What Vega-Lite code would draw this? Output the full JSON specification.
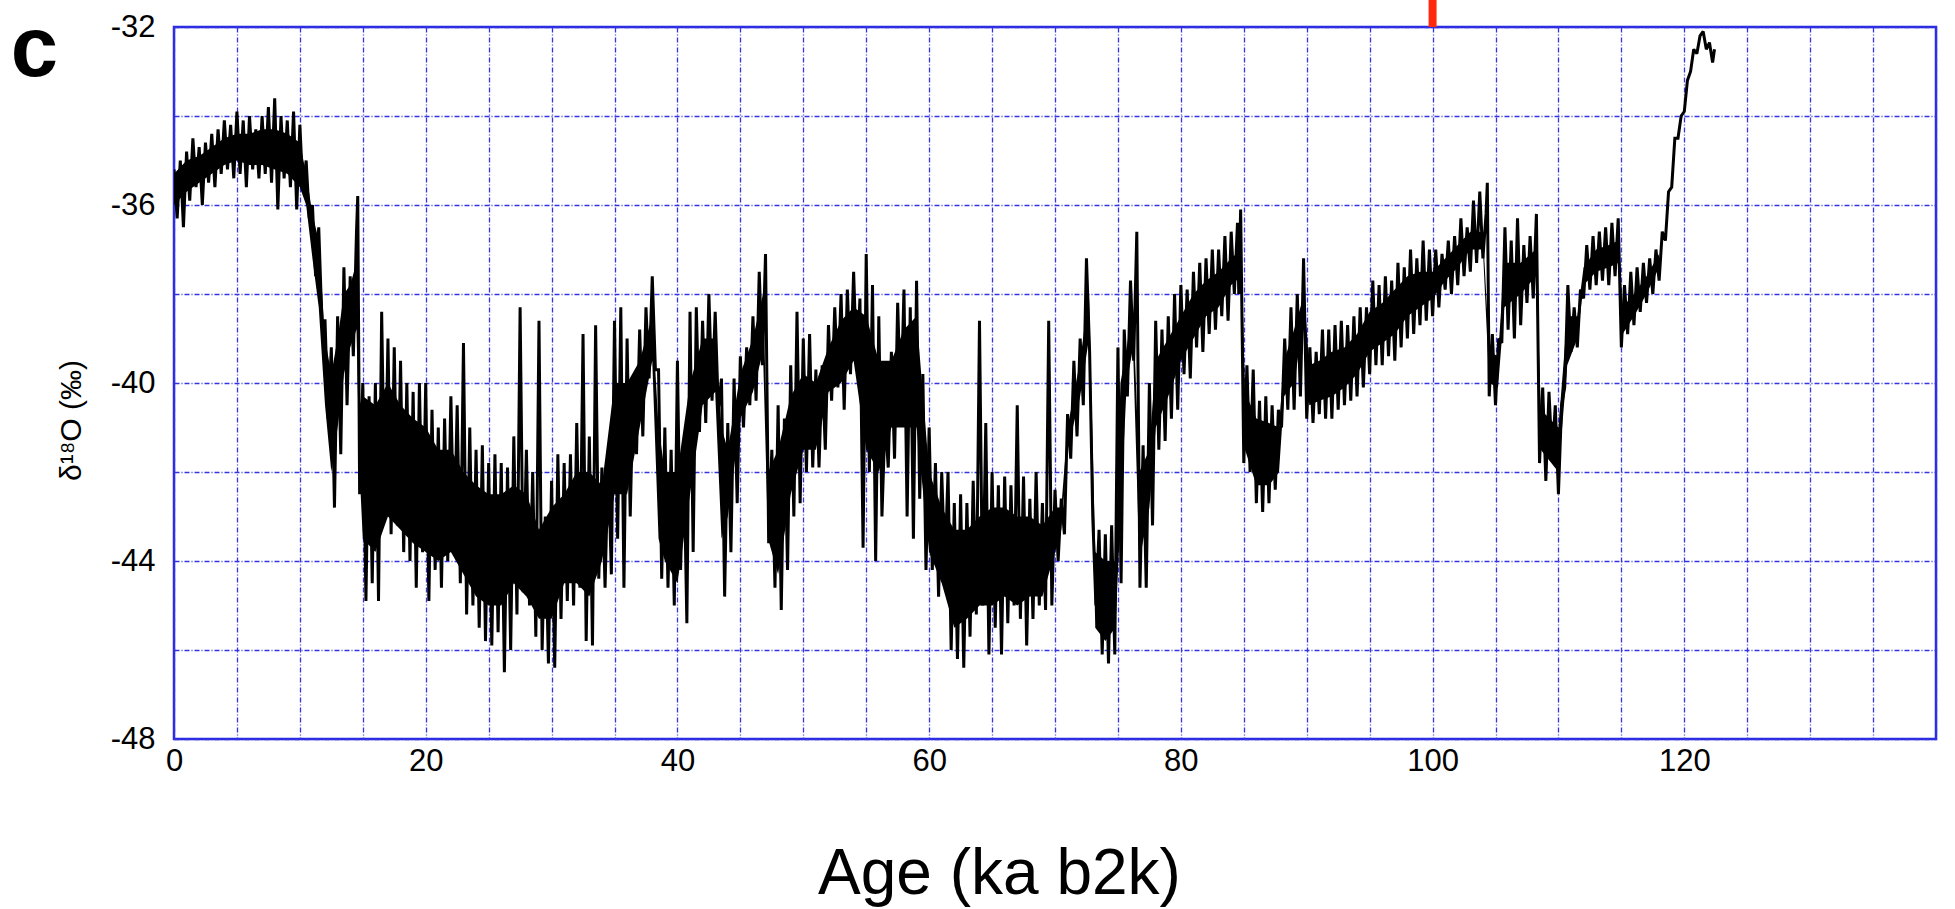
{
  "$schema": "https://vega.github.io/schema/vega-lite/v6.json",
  "width": 1762,
  "height": 712,
  "autosize": {"type": "none"},
  "padding": {"left": 174, "top": 27, "right": 19, "bottom": 170},
  "background": "white",
  "config": {
    "view": {"stroke": "#2b2be3", "strokeWidth": 2.5},
    "axis": {
      "grid": true,
      "ticks": false,
      "domain": false,
      "gridColor": "#3434e0",
      "gridDash": [5, 2, 1, 2],
      "gridWidth": 1.3,
      "labelFont": "Liberation Sans",
      "labelFontSize": 31,
      "labelColor": "black",
      "labelFlush": false,
      "labelOverlap": false,
      "titleColor": "black",
      "titleFontWeight": "normal"
    }
  },
  "datasets": {
    "ngrip": [
      {"age":0,"d18O":-35.2},{"age":0.25,"d18O":-36.3},{"age":0.5,"d18O":-35.0},{"age":0.75,"d18O":-36.5},
      {"age":1,"d18O":-34.8},{"age":1.25,"d18O":-35.9},{"age":1.5,"d18O":-34.5},{"age":1.75,"d18O":-35.6},
      {"age":2,"d18O":-34.7},{"age":2.25,"d18O":-36.0},{"age":2.5,"d18O":-34.6},{"age":2.75,"d18O":-35.5},
      {"age":3,"d18O":-34.4},{"age":3.25,"d18O":-35.6},{"age":3.5,"d18O":-34.3},{"age":3.75,"d18O":-35.3},
      {"age":4,"d18O":-34.1},{"age":4.25,"d18O":-35.2},{"age":4.5,"d18O":-34.2},{"age":4.75,"d18O":-35.4},
      {"age":5,"d18O":-33.9},{"age":5.25,"d18O":-35.3},{"age":5.5,"d18O":-34.1},{"age":5.75,"d18O":-35.6},
      {"age":6,"d18O":-34.0},{"age":6.25,"d18O":-35.2},{"age":6.5,"d18O":-34.3},{"age":6.75,"d18O":-35.4},
      {"age":7,"d18O":-34.0},{"age":7.25,"d18O":-35.3},{"age":7.5,"d18O":-33.8},{"age":7.75,"d18O":-35.5},
      {"age":8,"d18O":-33.6},{"age":8.25,"d18O":-36.1},{"age":8.5,"d18O":-34.0},{"age":8.75,"d18O":-35.4},
      {"age":9,"d18O":-34.1},{"age":9.25,"d18O":-35.6},{"age":9.5,"d18O":-33.9},{"age":9.75,"d18O":-36.1},
      {"age":10,"d18O":-34.2},{"age":10.25,"d18O":-35.7},{"age":10.5,"d18O":-35.0},{"age":10.75,"d18O":-36.3},
      {"age":11,"d18O":-36.0},{"age":11.25,"d18O":-37.6},{"age":11.5,"d18O":-36.5},{"age":11.75,"d18O":-38.6},
      {"age":12,"d18O":-38.6},{"age":12.25,"d18O":-40.8},{"age":12.5,"d18O":-39.2},{"age":12.75,"d18O":-42.8},
      {"age":13,"d18O":-38.5},{"age":13.25,"d18O":-41.6},{"age":13.5,"d18O":-37.4},{"age":13.75,"d18O":-40.5},
      {"age":14,"d18O":-37.6},{"age":14.25,"d18O":-39.4},{"age":14.5,"d18O":-36.6},{"age":14.6,"d18O":-35.8},
      {"age":14.75,"d18O":-42.5},{"age":15,"d18O":-40.0},{"age":15.25,"d18O":-44.9},{"age":15.5,"d18O":-40.3},
      {"age":15.75,"d18O":-44.5},{"age":16,"d18O":-40.0},{"age":16.25,"d18O":-44.9},{"age":16.5,"d18O":-38.4},
      {"age":16.75,"d18O":-43.0},{"age":17,"d18O":-39.0},{"age":17.25,"d18O":-43.4},{"age":17.5,"d18O":-39.2},
      {"age":17.75,"d18O":-43.2},{"age":18,"d18O":-39.5},{"age":18.25,"d18O":-43.8},{"age":18.5,"d18O":-40.0},
      {"age":18.75,"d18O":-44.0},{"age":19,"d18O":-40.2},{"age":19.25,"d18O":-44.6},{"age":19.5,"d18O":-40.0},
      {"age":19.75,"d18O":-43.8},{"age":20,"d18O":-40.0},{"age":20.25,"d18O":-44.9},{"age":20.5,"d18O":-40.6},
      {"age":20.75,"d18O":-44.2},{"age":21,"d18O":-41.0},{"age":21.25,"d18O":-44.6},{"age":21.5,"d18O":-40.8},
      {"age":21.75,"d18O":-44.0},{"age":22,"d18O":-40.3},{"age":22.25,"d18O":-43.7},{"age":22.5,"d18O":-40.5},
      {"age":22.75,"d18O":-44.5},{"age":23,"d18O":-39.1},{"age":23.25,"d18O":-45.2},{"age":23.5,"d18O":-41.0},
      {"age":23.75,"d18O":-45.0},{"age":24,"d18O":-41.5},{"age":24.25,"d18O":-45.5},{"age":24.5,"d18O":-41.4},
      {"age":24.75,"d18O":-45.8},{"age":25,"d18O":-41.8},{"age":25.25,"d18O":-45.9},{"age":25.5,"d18O":-41.6},
      {"age":25.75,"d18O":-45.6},{"age":26,"d18O":-41.8},{"age":26.25,"d18O":-46.5},{"age":26.5,"d18O":-41.9},
      {"age":26.75,"d18O":-46.0},{"age":27,"d18O":-41.2},{"age":27.25,"d18O":-45.2},{"age":27.5,"d18O":-38.3},
      {"age":27.75,"d18O":-44.7},{"age":28,"d18O":-41.5},{"age":28.25,"d18O":-45.0},{"age":28.5,"d18O":-42.0},
      {"age":28.75,"d18O":-45.7},{"age":29,"d18O":-38.6},{"age":29.25,"d18O":-46.0},{"age":29.5,"d18O":-43.0},
      {"age":29.75,"d18O":-46.3},{"age":30,"d18O":-42.2},{"age":30.25,"d18O":-46.4},{"age":30.5,"d18O":-41.6},
      {"age":30.75,"d18O":-45.3},{"age":31,"d18O":-41.8},{"age":31.25,"d18O":-44.9},{"age":31.5,"d18O":-41.6},
      {"age":31.75,"d18O":-45.0},{"age":32,"d18O":-40.9},{"age":32.25,"d18O":-44.6},{"age":32.5,"d18O":-38.9},
      {"age":32.75,"d18O":-45.8},{"age":33,"d18O":-41.2},{"age":33.25,"d18O":-45.9},{"age":33.5,"d18O":-38.7},
      {"age":33.75,"d18O":-44.4},{"age":34,"d18O":-41.9},{"age":34.25,"d18O":-44.6},{"age":34.5,"d18O":-41.7},
      {"age":34.75,"d18O":-44.3},{"age":35,"d18O":-38.6},{"age":35.25,"d18O":-43.5},{"age":35.5,"d18O":-38.3},
      {"age":35.75,"d18O":-44.6},{"age":36,"d18O":-39.0},{"age":36.25,"d18O":-43.0},{"age":36.5,"d18O":-39.9},
      {"age":36.75,"d18O":-41.6},{"age":37,"d18O":-38.8},{"age":37.25,"d18O":-41.2},{"age":37.5,"d18O":-38.3},
      {"age":37.75,"d18O":-39.9},{"age":38,"d18O":-37.6},{"age":38.25,"d18O":-39.7},{"age":38.5,"d18O":-39.7},
      {"age":38.75,"d18O":-44.4},{"age":39,"d18O":-41.0},{"age":39.25,"d18O":-44.6},{"age":39.5,"d18O":-41.5},
      {"age":39.75,"d18O":-45.0},{"age":40,"d18O":-39.5},{"age":40.25,"d18O":-44.2},{"age":40.5,"d18O":-41.5},
      {"age":40.75,"d18O":-45.4},{"age":41,"d18O":-38.4},{"age":41.25,"d18O":-43.8},{"age":41.5,"d18O":-38.3},
      {"age":41.75,"d18O":-41.1},{"age":42,"d18O":-38.6},{"age":42.25,"d18O":-40.9},{"age":42.5,"d18O":-38.0},
      {"age":42.75,"d18O":-40.4},{"age":43,"d18O":-38.4},{"age":43.25,"d18O":-40.6},{"age":43.5,"d18O":-39.9},
      {"age":43.75,"d18O":-44.8},{"age":44,"d18O":-40.9},{"age":44.25,"d18O":-43.8},{"age":44.5,"d18O":-39.9},
      {"age":44.75,"d18O":-42.7},{"age":45,"d18O":-39.4},{"age":45.25,"d18O":-41.0},{"age":45.5,"d18O":-39.2},
      {"age":45.75,"d18O":-40.5},{"age":46,"d18O":-38.5},{"age":46.25,"d18O":-40.4},{"age":46.5,"d18O":-37.5},
      {"age":46.75,"d18O":-39.6},{"age":47,"d18O":-37.1},{"age":47.25,"d18O":-43.6},{"age":47.5,"d18O":-41.5},
      {"age":47.75,"d18O":-44.6},{"age":48,"d18O":-40.5},{"age":48.25,"d18O":-45.1},{"age":48.5,"d18O":-40.8},
      {"age":48.75,"d18O":-44.2},{"age":49,"d18O":-39.6},{"age":49.25,"d18O":-43.0},{"age":49.5,"d18O":-38.4},
      {"age":49.75,"d18O":-42.7},{"age":50,"d18O":-39.0},{"age":50.25,"d18O":-42.0},{"age":50.5,"d18O":-38.9},
      {"age":50.75,"d18O":-41.9},{"age":51,"d18O":-39.7},{"age":51.25,"d18O":-41.9},{"age":51.5,"d18O":-39.6},
      {"age":51.75,"d18O":-41.5},{"age":52,"d18O":-38.7},{"age":52.25,"d18O":-40.4},{"age":52.5,"d18O":-38.3},
      {"age":52.75,"d18O":-40.1},{"age":53,"d18O":-38.0},{"age":53.25,"d18O":-40.6},{"age":53.5,"d18O":-37.9},
      {"age":53.75,"d18O":-39.8},{"age":54,"d18O":-37.5},{"age":54.25,"d18O":-39.7},{"age":54.5,"d18O":-38.1},
      {"age":54.75,"d18O":-43.7},{"age":55,"d18O":-37.1},{"age":55.25,"d18O":-42.0},{"age":55.5,"d18O":-37.8},
      {"age":55.75,"d18O":-44.0},{"age":56,"d18O":-38.5},{"age":56.25,"d18O":-43.0},{"age":56.5,"d18O":-40.8},
      {"age":56.75,"d18O":-41.9},{"age":57,"d18O":-39.3},{"age":57.25,"d18O":-41.7},{"age":57.5,"d18O":-38.2},
      {"age":57.75,"d18O":-40.6},{"age":58,"d18O":-37.9},{"age":58.25,"d18O":-43.0},{"age":58.5,"d18O":-38.3},
      {"age":58.75,"d18O":-43.5},{"age":59,"d18O":-37.7},{"age":59.25,"d18O":-42.6},{"age":59.5,"d18O":-39.8},
      {"age":59.75,"d18O":-44.2},{"age":60,"d18O":-41.0},{"age":60.25,"d18O":-44.2},{"age":60.5,"d18O":-41.8},
      {"age":60.75,"d18O":-44.8},{"age":61,"d18O":-42.0},{"age":61.25,"d18O":-44.2},{"age":61.5,"d18O":-42.0},
      {"age":61.75,"d18O":-46.0},{"age":62,"d18O":-42.7},{"age":62.25,"d18O":-46.2},{"age":62.5,"d18O":-42.5},
      {"age":62.75,"d18O":-46.4},{"age":63,"d18O":-42.7},{"age":63.25,"d18O":-45.7},{"age":63.5,"d18O":-42.2},
      {"age":63.75,"d18O":-45.2},{"age":64,"d18O":-38.6},{"age":64.25,"d18O":-45.0},{"age":64.5,"d18O":-40.9},
      {"age":64.75,"d18O":-46.1},{"age":65,"d18O":-42.0},{"age":65.25,"d18O":-45.5},{"age":65.5,"d18O":-42.3},
      {"age":65.75,"d18O":-46.1},{"age":66,"d18O":-42.1},{"age":66.25,"d18O":-45.4},{"age":66.5,"d18O":-42.3},
      {"age":66.75,"d18O":-45.0},{"age":67,"d18O":-40.5},{"age":67.25,"d18O":-45.3},{"age":67.5,"d18O":-42.1},
      {"age":67.75,"d18O":-45.9},{"age":68,"d18O":-42.6},{"age":68.25,"d18O":-45.3},{"age":68.5,"d18O":-42.0},
      {"age":68.75,"d18O":-45.0},{"age":69,"d18O":-42.7},{"age":69.25,"d18O":-45.1},{"age":69.5,"d18O":-38.6},
      {"age":69.75,"d18O":-45.0},{"age":70,"d18O":-42.4},{"age":70.25,"d18O":-44.0},{"age":70.5,"d18O":-42.6},
      {"age":70.75,"d18O":-43.4},{"age":71,"d18O":-40.7},{"age":71.25,"d18O":-41.7},{"age":71.5,"d18O":-39.5},
      {"age":71.75,"d18O":-41.2},{"age":72,"d18O":-39.0},{"age":72.25,"d18O":-40.5},{"age":72.5,"d18O":-37.2},
      {"age":72.75,"d18O":-39.3},{"age":73,"d18O":-43.0},{"age":73.25,"d18O":-45.0},{"age":73.5,"d18O":-43.3},
      {"age":73.75,"d18O":-46.1},{"age":74,"d18O":-43.4},{"age":74.25,"d18O":-46.3},{"age":74.5,"d18O":-43.2},
      {"age":74.75,"d18O":-46.1},{"age":75,"d18O":-39.2},{"age":75.25,"d18O":-44.5},{"age":75.5,"d18O":-38.8},
      {"age":75.75,"d18O":-40.3},{"age":76,"d18O":-37.7},{"age":76.25,"d18O":-39.5},{"age":76.5,"d18O":-36.6},
      {"age":76.75,"d18O":-44.6},{"age":77,"d18O":-41.4},{"age":77.25,"d18O":-44.6},{"age":77.5,"d18O":-40.0},
      {"age":77.75,"d18O":-43.2},{"age":78,"d18O":-38.6},{"age":78.25,"d18O":-41.5},{"age":78.5,"d18O":-38.8},
      {"age":78.75,"d18O":-41.3},{"age":79,"d18O":-38.5},{"age":79.25,"d18O":-40.8},{"age":79.5,"d18O":-38.0},
      {"age":79.75,"d18O":-40.6},{"age":80,"d18O":-37.8},{"age":80.25,"d18O":-39.8},{"age":80.5,"d18O":-37.9},
      {"age":80.75,"d18O":-39.9},{"age":81,"d18O":-37.5},{"age":81.25,"d18O":-39.2},{"age":81.5,"d18O":-37.3},
      {"age":81.75,"d18O":-39.3},{"age":82,"d18O":-37.2},{"age":82.25,"d18O":-38.9},{"age":82.5,"d18O":-37.0},
      {"age":82.75,"d18O":-38.8},{"age":83,"d18O":-37.0},{"age":83.25,"d18O":-38.5},{"age":83.5,"d18O":-36.7},
      {"age":83.75,"d18O":-38.6},{"age":84,"d18O":-36.6},{"age":84.25,"d18O":-38.0},{"age":84.5,"d18O":-36.4},
      {"age":84.6,"d18O":-38.0},{"age":84.75,"d18O":-36.1},{"age":85,"d18O":-41.8},{"age":85.25,"d18O":-39.6},
      {"age":85.5,"d18O":-42.0},{"age":85.75,"d18O":-39.7},{"age":86,"d18O":-42.7},{"age":86.25,"d18O":-40.4},
      {"age":86.5,"d18O":-42.9},{"age":86.75,"d18O":-40.3},{"age":87,"d18O":-42.7},{"age":87.25,"d18O":-40.5},
      {"age":87.5,"d18O":-42.4},{"age":87.75,"d18O":-40.6},{"age":88,"d18O":-41.0},{"age":88.25,"d18O":-39.0},
      {"age":88.5,"d18O":-40.6},{"age":88.75,"d18O":-38.3},{"age":89,"d18O":-40.6},{"age":89.25,"d18O":-38.0},
      {"age":89.5,"d18O":-40.3},{"age":89.75,"d18O":-37.2},{"age":90,"d18O":-40.8},{"age":90.25,"d18O":-39.2},
      {"age":90.5,"d18O":-40.9},{"age":90.75,"d18O":-39.3},{"age":91,"d18O":-40.7},{"age":91.25,"d18O":-38.8},
      {"age":91.5,"d18O":-40.8},{"age":91.75,"d18O":-38.8},{"age":92,"d18O":-40.8},{"age":92.25,"d18O":-38.7},
      {"age":92.5,"d18O":-40.6},{"age":92.75,"d18O":-38.6},{"age":93,"d18O":-40.5},{"age":93.25,"d18O":-38.7},
      {"age":93.5,"d18O":-40.4},{"age":93.75,"d18O":-38.5},{"age":94,"d18O":-40.3},{"age":94.25,"d18O":-38.3},
      {"age":94.5,"d18O":-40.1},{"age":94.75,"d18O":-38.3},{"age":95,"d18O":-39.8},{"age":95.25,"d18O":-37.7},
      {"age":95.5,"d18O":-39.6},{"age":95.75,"d18O":-37.8},{"age":96,"d18O":-39.6},{"age":96.25,"d18O":-37.6},
      {"age":96.5,"d18O":-39.4},{"age":96.75,"d18O":-37.7},{"age":97,"d18O":-39.5},{"age":97.25,"d18O":-37.3},
      {"age":97.5,"d18O":-39.2},{"age":97.75,"d18O":-37.4},{"age":98,"d18O":-39.0},{"age":98.25,"d18O":-37.0},
      {"age":98.5,"d18O":-38.9},{"age":98.75,"d18O":-37.2},{"age":99,"d18O":-38.7},{"age":99.25,"d18O":-36.8},
      {"age":99.5,"d18O":-38.6},{"age":99.75,"d18O":-37.0},{"age":100,"d18O":-38.5},{"age":100.25,"d18O":-37.0},
      {"age":100.5,"d18O":-38.3},{"age":100.75,"d18O":-37.1},{"age":101,"d18O":-37.9},{"age":101.25,"d18O":-36.8},
      {"age":101.5,"d18O":-38.0},{"age":101.75,"d18O":-36.7},{"age":102,"d18O":-37.8},{"age":102.25,"d18O":-36.3},
      {"age":102.5,"d18O":-37.6},{"age":102.75,"d18O":-36.5},{"age":103,"d18O":-37.5},{"age":103.25,"d18O":-35.9},
      {"age":103.5,"d18O":-37.3},{"age":103.75,"d18O":-35.7},{"age":104,"d18O":-37.2},{"age":104.25,"d18O":-36.2},
      {"age":104.35,"d18O":-35.5},{"age":104.5,"d18O":-40.3},{"age":104.75,"d18O":-38.9},{"age":105,"d18O":-40.5},
      {"age":105.25,"d18O":-39.0},{"age":105.5,"d18O":-39.1},{"age":105.75,"d18O":-36.5},{"age":106,"d18O":-38.8},
      {"age":106.25,"d18O":-36.8},{"age":106.5,"d18O":-39.0},{"age":106.75,"d18O":-36.3},{"age":107,"d18O":-38.7},
      {"age":107.25,"d18O":-36.9},{"age":107.5,"d18O":-38.2},{"age":107.75,"d18O":-36.7},{"age":108,"d18O":-38.1},
      {"age":108.25,"d18O":-36.2},{"age":108.5,"d18O":-41.8},{"age":108.75,"d18O":-40.1},{"age":109,"d18O":-42.2},
      {"age":109.25,"d18O":-40.2},{"age":109.5,"d18O":-41.7},{"age":109.75,"d18O":-40.5},{"age":110,"d18O":-42.5},
      {"age":110.25,"d18O":-40.5},{"age":110.5,"d18O":-40.1},{"age":110.75,"d18O":-37.8},{"age":111,"d18O":-39.3},
      {"age":111.25,"d18O":-38.3},{"age":111.5,"d18O":-39.2},{"age":111.75,"d18O":-37.9},{"age":112,"d18O":-38.1},
      {"age":112.25,"d18O":-36.9},{"age":112.5,"d18O":-37.9},{"age":112.75,"d18O":-36.7},{"age":113,"d18O":-37.8},
      {"age":113.25,"d18O":-36.6},{"age":113.5,"d18O":-37.7},{"age":113.75,"d18O":-36.5},{"age":114,"d18O":-37.8},
      {"age":114.25,"d18O":-36.4},{"age":114.5,"d18O":-37.6},{"age":114.75,"d18O":-36.3},{"age":115,"d18O":-39.2},
      {"age":115.25,"d18O":-37.8},{"age":115.5,"d18O":-38.9},{"age":115.75,"d18O":-37.5},{"age":116,"d18O":-38.7},
      {"age":116.25,"d18O":-37.4},{"age":116.5,"d18O":-38.4},{"age":116.75,"d18O":-37.3},{"age":117,"d18O":-38.2},
      {"age":117.25,"d18O":-37.2},{"age":117.5,"d18O":-38.0},{"age":117.75,"d18O":-37.0},{"age":118,"d18O":-37.7},
      {"age":118.25,"d18O":-36.6},{"age":118.5,"d18O":-36.8},{"age":118.75,"d18O":-35.7},{"age":119,"d18O":-35.6},
      {"age":119.25,"d18O":-34.5},{"age":119.5,"d18O":-34.5},{"age":119.75,"d18O":-34.0},{"age":120,"d18O":-33.9},
      {"age":120.25,"d18O":-33.2},{"age":120.5,"d18O":-33.0},{"age":120.75,"d18O":-32.5},{"age":121,"d18O":-32.6},
      {"age":121.25,"d18O":-32.2},{"age":121.5,"d18O":-32.1},{"age":121.75,"d18O":-32.5},{"age":122,"d18O":-32.35},
      {"age":122.25,"d18O":-32.8},{"age":122.4,"d18O":-32.5}
    ],
    "core": [
      {"age":0,"core_hi":-35.3,"core_lo":-36.0},{"age":1,"core_hi":-35.0,"core_lo":-35.7},{"age":2,"core_hi":-34.9,"core_lo":-35.5},
      {"age":3,"core_hi":-34.7,"core_lo":-35.3},{"age":4,"core_hi":-34.5,"core_lo":-35.1},{"age":5,"core_hi":-34.4,"core_lo":-35.0},
      {"age":6,"core_hi":-34.4,"core_lo":-35.1},{"age":7,"core_hi":-34.3,"core_lo":-35.1},{"age":8,"core_hi":-34.3,"core_lo":-35.2},
      {"age":9,"core_hi":-34.4,"core_lo":-35.3},{"age":10,"core_hi":-34.6,"core_lo":-35.6},{"age":10.5,"core_hi":-35.3,"core_lo":-36.0},
      {"age":11,"core_hi":-36.2,"core_lo":-37.2},{"age":11.5,"core_hi":-36.8,"core_lo":-38.3},{"age":12,"core_hi":-39.0,"core_lo":-40.5},
      {"age":12.5,"core_hi":-39.8,"core_lo":-42.0},{"age":13,"core_hi":-39.0,"core_lo":-41.0},{"age":13.5,"core_hi":-38.0,"core_lo":-39.8},
      {"age":14,"core_hi":-37.8,"core_lo":-39.2},{"age":14.5,"core_hi":-37.3,"core_lo":-38.8},{"age":14.75,"core_hi":-40.5,"core_lo":-42.0},
      {"age":15,"core_hi":-40.3,"core_lo":-43.5},{"age":16,"core_hi":-40.5,"core_lo":-43.8},{"age":17,"core_hi":-40.0,"core_lo":-43.0},
      {"age":18,"core_hi":-40.5,"core_lo":-43.3},{"age":19,"core_hi":-40.8,"core_lo":-43.6},{"age":20,"core_hi":-41.0,"core_lo":-43.8},
      {"age":21,"core_hi":-41.5,"core_lo":-44.0},{"age":22,"core_hi":-41.5,"core_lo":-43.8},{"age":23,"core_hi":-42.0,"core_lo":-44.3},
      {"age":24,"core_hi":-42.3,"core_lo":-44.8},{"age":25,"core_hi":-42.5,"core_lo":-45.0},{"age":26,"core_hi":-42.5,"core_lo":-45.0},
      {"age":27,"core_hi":-42.3,"core_lo":-44.5},{"age":28,"core_hi":-42.5,"core_lo":-44.8},{"age":29,"core_hi":-43.3,"core_lo":-45.3},
      {"age":30,"core_hi":-42.8,"core_lo":-45.3},{"age":31,"core_hi":-42.5,"core_lo":-44.5},{"age":32,"core_hi":-42.0,"core_lo":-44.5},
      {"age":33,"core_hi":-42.0,"core_lo":-44.8},{"age":34,"core_hi":-42.3,"core_lo":-44.0},{"age":35,"core_hi":-40.0,"core_lo":-42.5},
      {"age":36,"core_hi":-40.0,"core_lo":-42.5},{"age":37,"core_hi":-39.5,"core_lo":-41.0},{"age":38,"core_hi":-38.5,"core_lo":-39.5},
      {"age":38.5,"core_hi":-41.0,"core_lo":-43.5},{"age":39,"core_hi":-42.0,"core_lo":-44.0},{"age":40,"core_hi":-42.0,"core_lo":-44.5},
      {"age":41,"core_hi":-40.0,"core_lo":-42.5},{"age":42,"core_hi":-39.0,"core_lo":-40.5},{"age":43,"core_hi":-39.0,"core_lo":-40.2},
      {"age":43.5,"core_hi":-41.0,"core_lo":-43.5},{"age":44,"core_hi":-41.5,"core_lo":-43.0},{"age":45,"core_hi":-39.8,"core_lo":-40.8},
      {"age":46,"core_hi":-39.0,"core_lo":-40.2},{"age":46.8,"core_hi":-38.0,"core_lo":-39.3},{"age":47.2,"core_hi":-42.0,"core_lo":-43.5},
      {"age":48,"core_hi":-41.5,"core_lo":-44.3},{"age":49,"core_hi":-40.3,"core_lo":-42.5},{"age":50,"core_hi":-39.8,"core_lo":-41.5},
      {"age":51,"core_hi":-40.0,"core_lo":-41.5},{"age":52,"core_hi":-39.2,"core_lo":-40.2},{"age":53,"core_hi":-38.6,"core_lo":-40.0},
      {"age":54,"core_hi":-38.3,"core_lo":-39.5},{"age":55,"core_hi":-38.5,"core_lo":-41.5},{"age":56,"core_hi":-39.5,"core_lo":-42.0},
      {"age":57,"core_hi":-39.5,"core_lo":-41.0},{"age":58,"core_hi":-38.8,"core_lo":-41.0},{"age":59,"core_hi":-38.5,"core_lo":-41.0},
      {"age":60,"core_hi":-42.0,"core_lo":-43.8},{"age":61,"core_hi":-42.8,"core_lo":-44.5},{"age":62,"core_hi":-43.3,"core_lo":-45.5},
      {"age":63,"core_hi":-43.3,"core_lo":-45.3},{"age":64,"core_hi":-43.0,"core_lo":-45.0},{"age":65,"core_hi":-42.8,"core_lo":-45.0},
      {"age":66,"core_hi":-42.8,"core_lo":-44.8},{"age":67,"core_hi":-43.0,"core_lo":-45.0},{"age":68,"core_hi":-43.0,"core_lo":-44.8},
      {"age":69,"core_hi":-43.2,"core_lo":-44.8},{"age":70,"core_hi":-42.8,"core_lo":-43.8},{"age":70.5,"core_hi":-42.8,"core_lo":-43.3},
      {"age":71,"core_hi":-41.0,"core_lo":-41.5},{"age":72,"core_hi":-39.5,"core_lo":-40.3},{"age":72.7,"core_hi":-38.0,"core_lo":-39.0},
      {"age":73.2,"core_hi":-43.8,"core_lo":-45.5},{"age":74,"core_hi":-44.0,"core_lo":-45.8},{"age":74.8,"core_hi":-44.0,"core_lo":-45.5},
      {"age":75.2,"core_hi":-40.0,"core_lo":-43.0},{"age":75.7,"core_hi":-39.2,"core_lo":-40.0},{"age":76.2,"core_hi":-38.3,"core_lo":-39.2},
      {"age":76.7,"core_hi":-42.0,"core_lo":-44.0},{"age":77.5,"core_hi":-41.5,"core_lo":-42.8},{"age":78,"core_hi":-39.5,"core_lo":-41.0},
      {"age":79,"core_hi":-39.0,"core_lo":-40.3},{"age":80,"core_hi":-38.5,"core_lo":-39.5},{"age":81,"core_hi":-38.0,"core_lo":-39.0},
      {"age":82,"core_hi":-37.7,"core_lo":-38.5},{"age":83,"core_hi":-37.5,"core_lo":-38.3},{"age":84,"core_hi":-37.2,"core_lo":-37.8},
      {"age":84.8,"core_hi":-37.0,"core_lo":-37.6},{"age":85.1,"core_hi":-40.2,"core_lo":-41.5},{"age":86,"core_hi":-40.8,"core_lo":-42.3},
      {"age":87,"core_hi":-40.9,"core_lo":-42.3},{"age":87.8,"core_hi":-41.0,"core_lo":-42.0},{"age":88.2,"core_hi":-39.5,"core_lo":-40.3},
      {"age":89,"core_hi":-38.8,"core_lo":-40.0},{"age":89.8,"core_hi":-38.0,"core_lo":-38.5},{"age":90.2,"core_hi":-39.6,"core_lo":-40.5},
      {"age":91,"core_hi":-39.5,"core_lo":-40.4},{"age":92,"core_hi":-39.3,"core_lo":-40.3},{"age":93,"core_hi":-39.2,"core_lo":-40.1},
      {"age":94,"core_hi":-38.9,"core_lo":-39.8},{"age":95,"core_hi":-38.4,"core_lo":-39.3},{"age":96,"core_hi":-38.2,"core_lo":-39.1},
      {"age":97,"core_hi":-37.9,"core_lo":-38.9},{"age":98,"core_hi":-37.6,"core_lo":-38.5},{"age":99,"core_hi":-37.5,"core_lo":-38.3},
      {"age":100,"core_hi":-37.5,"core_lo":-38.1},{"age":101,"core_hi":-37.2,"core_lo":-37.7},{"age":102,"core_hi":-36.9,"core_lo":-37.4},
      {"age":103,"core_hi":-36.6,"core_lo":-37.0},{"age":104,"core_hi":-36.6,"core_lo":-37.0},{"age":104.5,"core_hi":-39.3,"core_lo":-40.0},
      {"age":105.2,"core_hi":-39.4,"core_lo":-40.1},{"age":105.7,"core_hi":-37.3,"core_lo":-38.3},{"age":107,"core_hi":-37.3,"core_lo":-38.0},
      {"age":108.2,"core_hi":-37.0,"core_lo":-37.6},{"age":108.6,"core_hi":-40.6,"core_lo":-41.5},{"age":110,"core_hi":-41.0,"core_lo":-42.0},
      {"age":110.7,"core_hi":-38.5,"core_lo":-39.6},{"age":111.5,"core_hi":-38.5,"core_lo":-39.0},{"age":112,"core_hi":-37.4,"core_lo":-37.8},
      {"age":113,"core_hi":-37.0,"core_lo":-37.5},{"age":114,"core_hi":-36.9,"core_lo":-37.4},{"age":114.8,"core_hi":-36.8,"core_lo":-37.3},
      {"age":115.1,"core_hi":-38.3,"core_lo":-38.9},{"age":116,"core_hi":-38.0,"core_lo":-38.5},{"age":117,"core_hi":-37.6,"core_lo":-38.0},
      {"age":118,"core_hi":-37.1,"core_lo":-37.4}
    ],
    "marker": [{"age": 100}],
    "panel": [{"label": "c"}]
  },
  "layer": [
    {
      "data": {"name": "core"},
      "mark": {"type": "area", "color": "black", "opacity": 1, "clip": true},
      "encoding": {
        "x": {"field": "age", "type": "quantitative", "scale": {"domain": [0, 140], "nice": false, "zero": false}},
        "y": {"field": "core_hi", "type": "quantitative", "scale": {"domain": [-48, -32], "nice": false, "zero": false}},
        "y2": {"field": "core_lo"}
      }
    },
    {
      "data": {"name": "ngrip"},
      "mark": {"type": "line", "color": "black", "strokeWidth": 3, "clip": true, "strokeJoin": "miter", "strokeMiterLimit": 2},
      "encoding": {
        "x": {
          "field": "age",
          "type": "quantitative",
          "scale": {"domain": [0, 140], "nice": false, "zero": false},
          "axis": {
            "values": [0,5,10,15,20,25,30,35,40,45,50,55,60,65,70,75,80,85,90,95,100,105,110,115,120,125,130,135,140],
            "labelExpr": "datum.value % 20 === 0 && datum.value < 140 ? '' + datum.value : ''",
            "labelPadding": 7,
            "title": "Age (ka b2k)",
            "titleFont": "Liberation Sans",
            "titleFontSize": 64,
            "titleX": 825,
            "titleY": 154,
            "titleAlign": "center",
            "titleBaseline": "alphabetic"
          }
        },
        "y": {
          "field": "d18O",
          "type": "quantitative",
          "scale": {"domain": [-48, -32], "nice": false, "zero": false},
          "axis": {
            "values": [-48,-46,-44,-42,-40,-38,-36,-34,-32],
            "labelExpr": "datum.value % 4 === 0 ? '' + datum.value : ''",
            "labelPadding": 19,
            "title": "δ¹⁸O (‰)",
            "titleFont": "Liberation Sans",
            "titleFontSize": 30,
            "titleX": -103,
            "titleY": 393,
            "titleAngle": -90,
            "titleAlign": "center",
            "titleBaseline": "middle"
          }
        }
      }
    },
    {
      "data": {"name": "marker"},
      "mark": {"type": "rule", "color": "#ff2a0d", "strokeWidth": 8},
      "encoding": {
        "x": {"field": "age", "type": "quantitative"},
        "y": {"datum": -32},
        "y2": {"datum": -31.35}
      }
    },
    {
      "data": {"name": "panel"},
      "mark": {"type": "text", "font": "Liberation Sans", "fontSize": 85, "fontWeight": "bold", "color": "black", "align": "center", "baseline": "alphabetic", "clip": false},
      "encoding": {
        "text": {"field": "label"},
        "x": {"datum": -11.1},
        "y": {"datum": -33.11}
      }
    }
  ]
}
